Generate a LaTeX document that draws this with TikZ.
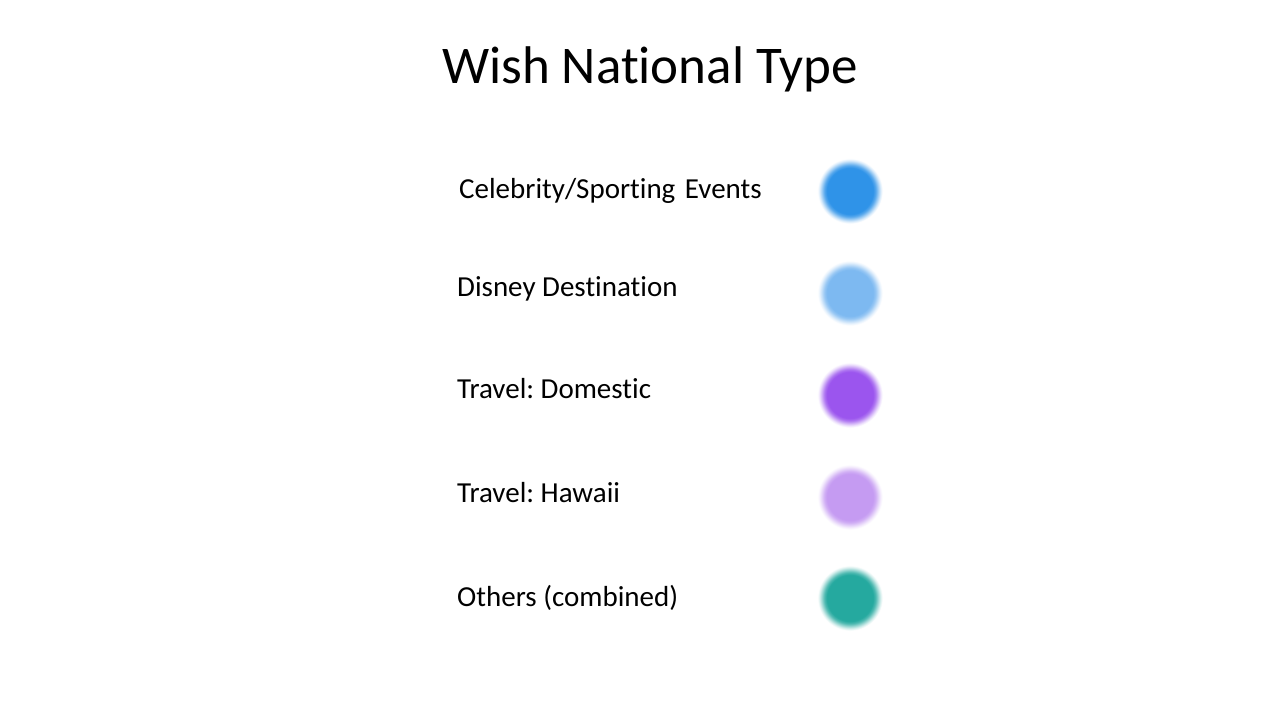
\documentclass[tikz,border=0pt]{standalone}
\usepackage{fontspec}
\setmainfont[Ligatures={NoCommon}]{Carlito}
\definecolor{cA}{HTML}{2F93E8}
\definecolor{cB}{HTML}{7DB9F1}
\definecolor{cC}{HTML}{9B55EE}
\definecolor{cD}{HTML}{C59BF2}
\definecolor{cE}{HTML}{25A99F}
\newcommand{\mkdotshade}[1]{%
  \pgfdeclareradialshading{dot#1}{\pgfpoint{0bp}{0bp}}{%
    color(0bp)=(#1); color(17.5bp)=(#1); color(19.5bp)=(#1!80!white);
    color(21.5bp)=(#1!45!white); color(23.3bp)=(#1!15!white); color(24.7bp)=(white); color(50bp)=(white)}}
\mkdotshade{cA}\mkdotshade{cB}\mkdotshade{cC}\mkdotshade{cD}\mkdotshade{cE}
\tikzset{
  lbl/.style={anchor=base west, inner sep=0pt, font=\fontsize{29}{34}\selectfont},
  ttl/.style={anchor=base, inner sep=0pt, font=\fontsize{53}{60}\selectfont},
  softdot/.style={circle, minimum size=66pt, inner sep=0pt, shading=dot#1},
}
\begin{document}
\frenchspacing
\begin{tikzpicture}[x=1pt,y=-1pt]
\useasboundingbox (0,0) rectangle (1280,720);
\fill[white] (0,0) rectangle (1280,720);
\node[ttl] (title) at (650,83) {Wish National Type};
\node[lbl] (l1) at (459,198) {Celebrity/Sporting\hspace{3pt} Events};
\node[lbl] (l2) at (457,296) {Disney Destination};
\node[lbl] (l3) at (457,398) {Travel: Domestic};
\node[lbl] (l4) at (457,502) {Travel: Hawaii};
\node[lbl] (l5) at (457,606) {Others (combined)};
\node[softdot=cA] (d1) at (850,191) {};
\node[softdot=cB] (d2) at (850,293) {};
\node[softdot=cC] (d3) at (850,395) {};
\node[softdot=cD] (d4) at (850,497) {};
\node[softdot=cE] (d5) at (850,598) {};
\end{tikzpicture}
\end{document}
